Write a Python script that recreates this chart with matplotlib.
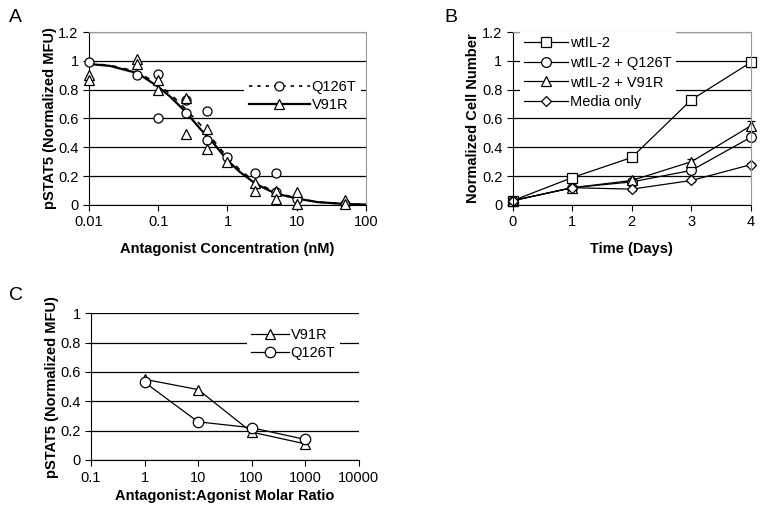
import numpy as np
import matplotlib.pyplot as plt

plt.rcParams['font.family'] = ['Liberation Sans', 'DejaVu Sans']
plt.rcParams['font.size'] = 10.5

# ---- panel A: dose response (replicates) ----
a_q126t_x = [0.01, 0.05, 0.1, 0.1, 0.25, 0.25, 0.5, 0.5, 1, 2.5, 5, 5, 10, 50]
a_q126t_y = [0.99, 0.90, 0.91, 0.60, 0.73, 0.64, 0.65, 0.45, 0.33, 0.22, 0.22, 0.09, 0.04, 0.01]
a_v91r_x = [0.01, 0.01, 0.05, 0.05, 0.1, 0.1, 0.25, 0.25, 0.5, 0.5, 1, 2.5, 2.5,
            5, 5, 10, 10, 50, 50]
a_v91r_y = [0.90, 0.87, 1.01, 0.98, 0.87, 0.80, 0.74, 0.49, 0.53, 0.39, 0.30, 0.15, 0.10,
            0.10, 0.04, 0.09, 0.01, 0.035, 0.005]
# fitted curves
fit_x = [0.01, 0.02, 0.05, 0.1, 0.15, 0.25, 0.4, 0.6, 1, 1.5, 2.5, 4, 6, 10, 20, 50, 100]
fit_q126t = [0.98, 0.97, 0.925, 0.835, 0.77, 0.665, 0.56, 0.46, 0.33, 0.245, 0.16, 0.11,
             0.075, 0.048, 0.02, 0.007, 0.003]
fit_v91r = [0.978, 0.965, 0.915, 0.82, 0.75, 0.645, 0.53, 0.44, 0.31, 0.23, 0.15, 0.10,
            0.07, 0.045, 0.02, 0.007, 0.003]

# ---- panel B: proliferation ----
days = [0, 1, 2, 3, 4]
b_wt = [0.03, 0.19, 0.33, 0.73, 0.99]
b_wt_err = [0.005, 0.01, 0.01, 0.01, 0.03]
b_q126t = [0.03, 0.12, 0.16, 0.24, 0.47]
b_q126t_err = [0.005, 0.01, 0.01, 0.02, 0.02]
b_v91r = [0.03, 0.12, 0.17, 0.30, 0.55]
b_v91r_err = [0.005, 0.01, 0.01, 0.02, 0.03]
b_media = [0.03, 0.12, 0.11, 0.17, 0.28]
b_media_err = [0.005, 0.01, 0.01, 0.01, 0.01]

# ---- panel C: molar ratio ----
ratio = [1, 10, 100, 1000]
c_v91r = [0.55, 0.48, 0.19, 0.11]
c_q126t = [0.53, 0.26, 0.22, 0.14]

fig = plt.figure(figsize=(7.62, 5.17), dpi=100)
mk = dict(mfc='white', mec='black', mew=0.9, color='black')


def style(ax, frame):
    ax.spines['left'].set_color('black')
    ax.spines['bottom'].set_color('black')
    for s in ('top', 'right'):
        ax.spines[s].set_visible(frame)
        ax.spines[s].set_color('#999999')
    ax.tick_params(direction='out', length=4, width=0.8, top=False, right=False, labelsize=10.5)
    ax.tick_params(which='minor', length=0)
    ax.set_axisbelow(True)
    ax.yaxis.grid(True, color='black', lw=0.9)


def leg(ax, spacing=0.3, **kw):
    l = ax.legend(frameon=True, fancybox=False, framealpha=1, borderpad=0.3,
                  handletextpad=0.1, labelspacing=spacing, fontsize=10.5, **kw)
    l.get_frame().set_edgecolor('none')
    l.get_frame().set_facecolor('white')
    return l


# A
ax = fig.add_axes([0.1168, 0.6035, 0.3635, 0.3346])
ax.plot(a_q126t_x, a_q126t_y, 'o', ms=6.5, **mk, zorder=3, clip_on=False)
ax.plot(a_v91r_x, a_v91r_y, '^', ms=6.5, **mk, zorder=3, clip_on=False)
ax.plot(fit_x, fit_q126t, '--', color='black', lw=1.2, dashes=(3, 4), zorder=2)
ax.plot(fit_x, fit_v91r, '-', color='black', lw=1.6, zorder=2)
hq, = ax.plot([], [], linestyle='--', dashes=(2, 3), marker='o', ms=6.5, lw=1.2, **mk)
hv, = ax.plot([], [], linestyle='-', marker='^', ms=6.5, lw=1.6, **mk)
ax.set_xscale('log')
ax.set_xlim(0.01, 100)
ax.set_ylim(0, 1.2)
ax.set_yticks([0, 0.2, 0.4, 0.6, 0.8, 1, 1.2])
ax.set_yticklabels(['0', '0.2', '0.4', '0.6', '0.8', '1', '1.2'])
ax.set_xticks([0.01, 0.1, 1, 10, 100])
ax.set_xticklabels(['0.01', '0.1', '1', '10', '100'])
style(ax, True)
ax.set_xlabel('Antagonist Concentration (nM)', fontweight='bold', labelpad=9)
ax.set_ylabel('pSTAT5 (Normalized MFU)', fontweight='bold', labelpad=1)
leg(ax, handles=[hq, hv], labels=['Q126T', 'V91R'], loc='upper left',
    bbox_to_anchor=(0.535, 0.79), handlelength=4.2)
fig.text(0.012, 0.958, 'A', fontsize=14)

# B
ax = fig.add_axes([0.6728, 0.6035, 0.3127, 0.3346])
kw = dict(lw=0.9, capsize=3, elinewidth=0.9, ecolor='black', clip_on=False)
series_b = [(b_wt, b_wt_err, 's', 7, 'wtIL-2'),
            (b_q126t, b_q126t_err, 'o', 7, 'wtIL-2 + Q126T'),
            (b_v91r, b_v91r_err, '^', 7, 'wtIL-2 + V91R'),
            (b_media, b_media_err, 'D', 5.5, 'Media only')]
handles = []
for vals, err, m, s, lab in series_b:
    eb = ax.errorbar(days, vals, yerr=err, marker=m, ms=s, **kw, **mk)
    for c in eb.lines[1]:
        c.set_clip_on(False)
    for c in eb.lines[2]:
        c.set_clip_on(False)
    h, = ax.plot([], [], marker=m, ms=s, lw=0.9, **mk)
    handles.append(h)
ax.set_xlim(0, 4)
ax.set_ylim(0, 1.2)
ax.set_xticks(days)
ax.set_yticks([0, 0.2, 0.4, 0.6, 0.8, 1, 1.2])
ax.set_yticklabels(['0', '0.2', '0.4', '0.6', '0.8', '1', '1.2'])
style(ax, True)
ax.set_xlabel('Time (Days)', fontweight='bold', labelpad=9)
ax.set_ylabel('Normalized Cell Number', fontweight='bold', labelpad=1)
leg(ax, spacing=0.4, handles=handles, labels=[t[4] for t in series_b], loc='upper left',
    bbox_to_anchor=(0.0, 1.045), handlelength=3.0)
fig.text(0.583, 0.958, 'B', fontsize=14)

# C
ax = fig.add_axes([0.1194, 0.1103, 0.3513, 0.2837])
ax.plot(ratio, c_v91r, marker='^', ms=7, lw=0.9, label='V91R', **mk)
ax.plot(ratio, c_q126t, marker='o', ms=7.5, lw=0.9, label='Q126T', **mk)
ax.set_xscale('log')
ax.set_xlim(0.1, 10000)
ax.set_ylim(0, 1)
ax.set_xticks([0.1, 1, 10, 100, 1000, 10000])
ax.set_xticklabels(['0.1', '1', '10', '100', '1000', '10000'])
ax.set_yticks([0, 0.2, 0.4, 0.6, 0.8, 1])
ax.set_yticklabels(['0', '0.2', '0.4', '0.6', '0.8', '1'])
style(ax, False)
ax.tick_params(axis='x', pad=4)
ax.set_xlabel('Antagonist:Agonist Molar Ratio', fontweight='bold', labelpad=3)
ax.set_ylabel('pSTAT5 (Normalized MFU)', fontweight='bold', labelpad=1)
leg(ax, loc='upper left', bbox_to_anchor=(0.555, 0.98), handlelength=2.6)
fig.text(0.012, 0.42, 'C', fontsize=14)

fig.savefig('out.png', dpi=100)
